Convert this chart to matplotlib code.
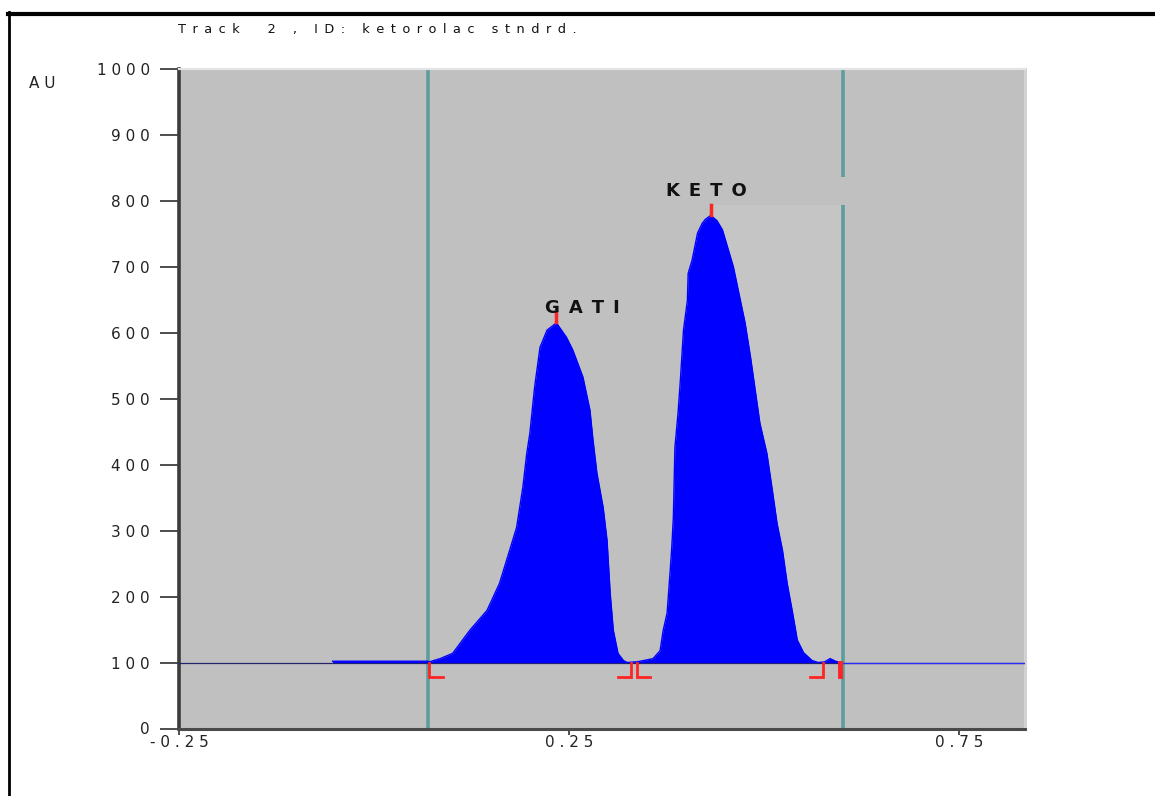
import matplotlib
matplotlib.use('Agg')
import matplotlib.pyplot as plt
from matplotlib.lines import Line2D
from matplotlib.patches import Rectangle

# ---------------- data ----------------
title_text = "Track  2 , ID: ketorolac stndrd."
y_label = "AU"
y_ticks = [0, 100, 200, 300, 400, 500, 600, 700, 800, 900, 1000]
x_ticks = [-0.25, 0.25, 0.75]
x_tick_labels = ["-0.25", "0.25", "0.75"]

baseline = 100

# densitogram signal (Rf, AU)
signal_x = [-0.053, 0.069, 0.071, 0.085, 0.101, 0.123, 0.145, 0.161, 0.174, 0.183,
            0.191, 0.196, 0.200, 0.206, 0.213, 0.222, 0.234, 0.247, 0.255, 0.268,
            0.277, 0.281, 0.286, 0.294, 0.299, 0.303, 0.307, 0.313, 0.320, 0.325,
            0.335, 0.337, 0.350, 0.358, 0.367, 0.371, 0.376, 0.380, 0.382, 0.384,
            0.386, 0.390, 0.393, 0.397, 0.402, 0.403, 0.408, 0.415, 0.421, 0.425,
            0.432, 0.440, 0.447, 0.454, 0.461, 0.470, 0.476, 0.483, 0.489, 0.495,
            0.504, 0.511, 0.517, 0.524, 0.530, 0.537, 0.543, 0.551, 0.562, 0.570,
            0.578, 0.585, 0.592, 0.598]
signal_y = [102, 102, 101, 106, 114, 149, 179, 220, 270, 305,
            366, 417, 448, 517, 578, 604, 615, 593, 574, 533,
            483, 437, 387, 335, 285, 205, 149, 114, 103, 100,
            101, 101, 104, 106, 118, 149, 175, 240, 275, 320,
            426, 478, 528, 604, 649, 690, 710, 751, 766, 772,
            778, 770, 756, 728, 700, 649, 615, 563, 513, 463,
            417, 361, 311, 270, 220, 175, 134, 115, 103, 100,
            101, 106, 102, 100]

peak_names = ["GATI", "KETO"]
peak_x = [0.234, 0.432]
peak_y = [615, 778]
peak_start = [0.071, 0.337]
peak_end = [0.330, 0.576]
extra_mark = [0.598]
window_lines = [0.069, 0.601]

# ---------------- styling helpers ----------------
def spaced(s, sep=" "):
    return sep.join(s)


plt.rcParams['font.family'] = ['DejaVu Sans']

W, H = 1155, 796
fig = plt.figure(figsize=(W / 100, H / 100), dpi=100)
ax_left, ax_right, ax_top, ax_bot = 179, 1025, 69, 728.5
ax = fig.add_axes([ax_left / W, (H - ax_bot) / H, (ax_right - ax_left) / W, (ax_bot - ax_top) / H])
ax.set_facecolor('#c0c0c0')
ax.set_xlim(-0.25, 0.835)
ax.set_ylim(0, 1000)

# subtle label-box artefacts around KETO
ax.add_patch(Rectangle((peak_x[1], baseline), window_lines[1] - peak_x[1], 794 - baseline,
                       facecolor='#c6c5c6', edgecolor='none', zorder=0.5))

# window lines
for wx in window_lines:
    ax.axvline(wx, color='#5f9c9c', lw=2.6, zorder=2)

ax.add_patch(Rectangle((0.360, 794), 0.25, 42, facecolor='#c0c0c0', edgecolor='none', zorder=2.5))

# baseline
ax.axhline(baseline, color='#23236e', lw=0.9, zorder=3)
ax.plot([window_lines[1], 0.835], [baseline, baseline], color='#2a2aff', lw=0.9, zorder=3)

# signal
ax.fill_between(signal_x, baseline, signal_y, color='#0000ff', lw=0, zorder=4)
ax.plot(signal_x, signal_y, color='#0000ff', lw=1.0, zorder=4)

# peak boundary markers
red = '#ff2424'
bw, bh = 0.017, 22
for sx in peak_start:
    ax.plot([sx, sx, sx + bw], [baseline, baseline - bh, baseline - bh], color=red, lw=2, zorder=5,
            solid_joinstyle='miter')
for ex in peak_end:
    ax.plot([ex, ex, ex - bw], [baseline, baseline - bh, baseline - bh], color=red, lw=2, zorder=5,
            solid_joinstyle='miter')
for mx in extra_mark:
    ax.plot([mx, mx], [baseline, baseline - 20], color=red, lw=3.5, zorder=5)

# apex ticks and names
label_pos = [(0.267, 638), (0.427, 815)]
for name, px, py, (lx, ly) in zip(peak_names, peak_x, peak_y, label_pos):
    ax.plot([px, px], [py + 1, py + 16], color=red, lw=2.5, zorder=5)
    ax.text(lx, ly, spaced(name, "\u2002"), ha='center', va='center', fontsize=13,
            fontweight='bold', color='#111111', zorder=6)

# ticks
ax.set_yticks(y_ticks)
ax.set_yticklabels([spaced(str(v)) for v in y_ticks], fontsize=11, color='#222222')
ax.set_xticks(x_ticks)
ax.set_xticklabels([spaced(s) for s in x_tick_labels], fontsize=11, color='#222222')
ax.tick_params(axis='y', direction='out', length=14, width=1.3, color='#404040', pad=7)
ax.tick_params(axis='x', direction='out', length=4, width=1.3, color='#404040', pad=1)

for side, col, lw in [('left', '#3c3c3c', 2.6), ('bottom', '#4a4a4a', 2.2),
                      ('top', '#e4e4e4', 1.6), ('right', '#d2d2d2', 2.2)]:
    ax.spines[side].set_color(col)
    ax.spines[side].set_linewidth(lw)

# texts outside axes
fig.text(178 / W, 1 - 30 / H, spaced(title_text, "\u2002"), fontsize=9.3, color='#111111',
         ha='left', va='center')
fig.text(29 / W, 1 - 83 / H, spaced(y_label), fontsize=11, color='#222222',
         ha='left', va='center')

# outer frame
fig.add_artist(Line2D([8 / W, 1.0], [1 - 13.5 / H] * 2, color='black', lw=3,
                      transform=fig.transFigure))
fig.add_artist(Line2D([9 / W] * 2, [0.0, 1 - 12 / H], color='black', lw=2,
                      transform=fig.transFigure))

fig.savefig('out.png', dpi=100, facecolor='white')
